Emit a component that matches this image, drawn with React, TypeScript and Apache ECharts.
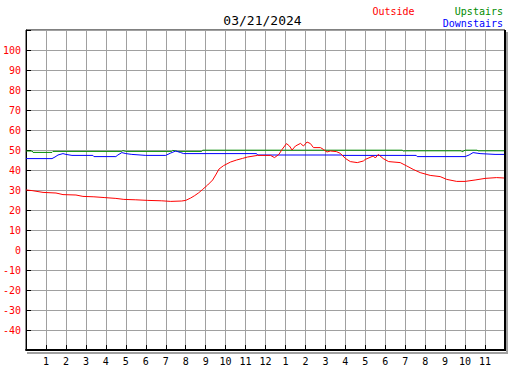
import React, { useEffect, useRef } from "react";
import * as echarts from "echarts";

const TITLE = "03/21/2024";
const SERIES_NAMES = ["Outside", "Upstairs", "Downstairs"];
const SERIES_COLORS = ["#ff0000", "#008c00", "#0000ff"];

const Y_TICKS_MIN = -50;
const Y_TICKS_MAX = 110;
const X_HOURS_MAX = 24;

const outsideHours = [
  0, 0.3, 0.85, 1.5, 1.85, 2.5, 2.85, 3.4, 3.95, 4.5, 4.9, 5.5, 6.1, 6.8, 7.25, 7.8, 8.0,
  8.25, 8.45, 8.65, 8.85, 9.1, 9.35, 9.5, 9.67, 9.9, 10.25, 10.55, 10.85, 11.1, 11.6,
  12.25, 12.45, 12.67, 12.83, 13.05, 13.2, 13.33, 13.5, 13.75, 13.9, 14.08, 14.25, 14.4,
  14.75, 14.9, 15.08, 15.25, 15.55, 15.75, 16.0, 16.25, 16.6, 16.9, 17.0, 17.4, 17.5,
  17.65, 17.9, 18.17, 18.75, 19.08, 19.4, 19.75, 20.25, 20.75, 21.08, 21.58, 22.0, 22.5,
  23.0, 23.58, 23.95,
];
const outsideTemps = [
  30.0, 29.7, 28.8, 28.5, 27.7, 27.5, 26.8, 26.6, 26.2, 25.8, 25.3, 25.1, 24.8, 24.6, 24.3,
  24.5, 24.8, 26.0, 27.2, 28.6, 30.3, 32.5, 35.0, 37.5, 40.5, 42.2, 44.0, 45.0, 45.8, 46.5,
  47.3, 47.3, 46.2, 47.8, 50.3, 53.2, 52.0, 50.0, 52.0, 53.3, 52.0, 54.0, 53.2, 51.2, 51.2,
  50.3, 49.0, 49.5, 49.2, 48.3, 45.8, 44.2, 43.7, 44.5, 45.3, 47.0, 46.0, 47.8, 45.7, 44.2,
  43.7, 42.0, 40.3, 38.7, 37.3, 36.7, 35.3, 34.3, 34.3, 35.0, 35.8, 36.2, 36.0,
];

const upstairsHours = [
  0, 0.3, 0.35, 1.3, 1.35, 4.8, 4.85, 5.0, 7.3, 7.35, 7.6, 8.8, 8.85, 18.85, 18.9, 19.0,
  21.8, 21.85, 22.0, 22.6, 22.65, 23.95,
];
const upstairsTemps = [
  49.5, 49.5, 48.8, 48.8, 49.3, 49.3, 49.7, 49.3, 49.3, 49.8, 49.3, 49.3, 49.9, 49.9, 49.5,
  49.6, 49.6, 49.1, 49.9, 49.9, 49.6, 49.6,
];

const downstairsHours = [
  0, 1.3, 1.45, 1.6, 1.85, 2.0, 2.3, 3.35, 3.4, 4.5, 4.6, 4.8, 5.0, 5.3, 6.0, 7.0, 7.25,
  7.5, 7.75, 7.9, 11.55, 11.6, 15.8, 15.85, 19.55, 19.6, 22.0, 22.2, 22.4, 22.75, 23.5,
  23.95,
];
const downstairsTemps = [
  45.7, 45.7, 46.5, 47.5, 48.2, 47.8, 47.3, 47.3, 46.7, 46.7, 47.5, 48.7, 48.2, 47.8, 47.3,
  47.3, 48.5, 49.5, 48.7, 48.2, 48.2, 47.5, 47.5, 47.3, 47.3, 46.7, 46.7, 47.5, 48.7, 48.2,
  47.8, 47.8,
];

const pair = (xs: number[], ys: number[]) => xs.map((x, i) => [x, ys[i]]);

const MONO = "'DejaVu Sans Mono', 'Liberation Mono', monospace";

export default function App() {
  const ref = useRef<HTMLDivElement>(null);

  useEffect(() => {
    document.body.style.margin = "0";
    if (!ref.current) return;
    const chart = echarts.init(ref.current, undefined, { renderer: "svg" });
    const gl = 25, gt = 30, gw = 480, gh = 320;

    chart.setOption({
      animation: false,
      backgroundColor: "#ffffff",
      grid: {
        left: gl,
        top: gt,
        width: gw,
        height: gh,
        show: true,
        borderColor: "#000",
        borderWidth: 1,
      },
      xAxis: {
        type: "value",
        min: 0,
        max: X_HOURS_MAX,
        interval: 1,
        axisLine: { show: true, onZero: false, lineStyle: { color: "#000", width: 2 } },
        axisTick: { show: true, inside: true, length: 5, lineStyle: { color: "#000", width: 1 } },
        axisLabel: {
          color: "#000",
          fontFamily: MONO,
          fontSize: 10,
          margin: 6,
          showMinLabel: false,
          showMaxLabel: false,
          formatter: (v: number) => {
            if (v <= 0 || v >= 24 || Math.abs(v - Math.round(v)) > 1e-6) return "";
            const h = Math.round(v) % 12;
            return String(h === 0 ? 12 : h);
          },
        },
        splitLine: { show: true, lineStyle: { color: "#a0a0a0", width: 1 } },
      },
      yAxis: {
        type: "value",
        min: Y_TICKS_MIN,
        max: Y_TICKS_MAX,
        interval: 10,
        axisLine: { show: true, onZero: false, lineStyle: { color: "#000", width: 1 } },
        axisTick: { show: true, inside: true, length: 5, lineStyle: { color: "#000", width: 1 } },
        axisLabel: {
          color: "#ff0000",
          fontFamily: MONO,
          fontSize: 10,
          margin: 5,
          formatter: (v: number) => (v < -45 || v > 105 ? "" : String(v)),
        },
        splitLine: { show: true, lineStyle: { color: "#a0a0a0", width: 1 } },
      },
      graphic: [
        { type: "rect", shape: { x: gl + gw - 1, y: gt, width: 2, height: gh + 1 }, style: { fill: "#000" }, z: 50 },
        { type: "rect", shape: { x: gl + gw + 1, y: gt + 2, width: 2, height: gh + 2 }, style: { fill: "#a0a0a0" }, z: 50 },
        { type: "rect", shape: { x: gl + 2, y: gt + gh + 2, width: gw, height: 2 }, style: { fill: "#a0a0a0" }, z: 50 },
        {
          type: "text",
          x: 262.5,
          y: 20,
          style: { text: TITLE, fill: "#000", font: `13px ${MONO}`, textAlign: "center", textVerticalAlign: "middle" },
        },
        {
          type: "text",
          x: 393.5,
          y: 11,
          style: { text: SERIES_NAMES[0], fill: SERIES_COLORS[0], font: `10px ${MONO}`, textAlign: "center", textVerticalAlign: "middle" },
        },
        {
          type: "text",
          x: 503,
          y: 11,
          style: { text: SERIES_NAMES[1], fill: SERIES_COLORS[1], font: `10px ${MONO}`, textAlign: "right", textVerticalAlign: "middle" },
        },
        {
          type: "text",
          x: 503,
          y: 23,
          style: { text: SERIES_NAMES[2], fill: SERIES_COLORS[2], font: `10px ${MONO}`, textAlign: "right", textVerticalAlign: "middle" },
        },
      ],
      series: [
        {
          name: SERIES_NAMES[1],
          type: "line",
          data: pair(upstairsHours, upstairsTemps),
          showSymbol: false,
          lineStyle: { color: SERIES_COLORS[1], width: 1 },
          z: 3,
        },
        {
          name: SERIES_NAMES[2],
          type: "line",
          data: pair(downstairsHours, downstairsTemps),
          showSymbol: false,
          lineStyle: { color: SERIES_COLORS[2], width: 1 },
          z: 4,
        },
        {
          name: SERIES_NAMES[0],
          type: "line",
          data: pair(outsideHours, outsideTemps),
          showSymbol: false,
          lineStyle: { color: SERIES_COLORS[0], width: 1 },
          z: 5,
        },
      ],
    });

    return () => chart.dispose();
  }, []);

  return <div ref={ref} style={{ width: 527, height: 370 }} />;
}
